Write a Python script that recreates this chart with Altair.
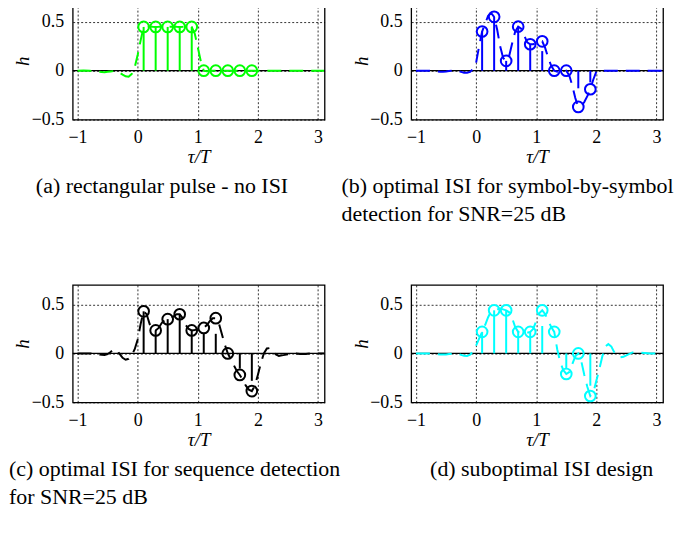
import altair as alt
import pandas as pd

# sample instants (tau/T)
sample_t = [0.1, 0.3, 0.5, 0.7, 0.9, 1.1, 1.3, 1.5, 1.7, 1.9]

# sampled pulse values (circles)
samp_a = [0.447, 0.447, 0.447, 0.447, 0.447, 0.0, 0.0, 0.0, 0.0, 0.0]
samp_b = [0.40, 0.55, 0.10, 0.45, 0.27, 0.30, 0.0, 0.0, -0.37, -0.19]
samp_c = [0.43, 0.235, 0.35, 0.40, 0.235, 0.26, 0.36, 0.0, -0.22, -0.385]
samp_d = [0.22, 0.44, 0.44, 0.22, 0.22, 0.44, 0.22, -0.21, 0.0, -0.435]

# visible stem ends
stem_a = [0.447, 0.447, 0.447, 0.447, 0.447, 0.0, 0.0, 0.0, 0.0, 0.0]
stem_b = [0.40, 0.55, 0.10, 0.45, 0.27, 0.20, 0.0, 0.0, -0.18, -0.12]
stem_c = [0.43, 0.235, 0.35, 0.40, 0.235, 0.20, 0.20, 0.0, -0.155, -0.28]
stem_d = [0.22, 0.44, 0.44, 0.22, 0.22, 0.28, 0.0, -0.16, 0.0, -0.33]

# continuous pulse (dashed curve)
curve_t = [-1.0, -0.9, -0.8, -0.7, -0.6, -0.55, -0.5, -0.45, -0.4, -0.35,
           -0.3, -0.25, -0.2, -0.15, -0.1, -0.05, 0.0, 0.05, 0.1, 0.15,
           0.2, 0.25, 0.3, 0.35, 0.4, 0.45, 0.5, 0.55, 0.6, 0.65,
           0.7, 0.75, 0.8, 0.85, 0.9, 0.95, 1.0, 1.05, 1.1, 1.15,
           1.2, 1.25, 1.3, 1.35, 1.4, 1.45, 1.5, 1.55, 1.6, 1.65,
           1.7, 1.75, 1.8, 1.85, 1.9, 1.95, 2.0, 2.05, 2.1, 2.15,
           2.2, 2.25, 2.3, 2.35, 2.4, 2.45, 2.5, 2.6, 2.7, 2.8,
           2.9, 3.0, 3.1]

curve_a = [0, 0.003, 0.0, -0.008, -0.014, -0.015, -0.012, -0.008, -0.004, -0.008,
           -0.02, -0.04, -0.058, -0.062, -0.035, 0.03, 0.16, 0.31, 0.447, 0.45,
           0.45, 0.448, 0.447, 0.448, 0.45, 0.448, 0.447, 0.448, 0.45, 0.448,
           0.447, 0.448, 0.45, 0.448, 0.447, 0.38, 0.24, 0.10, 0.0, -0.005,
           0, 0, 0, 0, 0, 0, 0, 0, 0, 0,
           0, 0, 0, 0, 0, 0, 0, 0, 0, 0,
           0, 0, 0, 0, 0, 0, 0, 0, 0, 0,
           0, 0, 0]

curve_b = [0, 0, 0, -0.005, -0.01, -0.01, -0.008, -0.004, 0.0, 0.0,
           -0.005, -0.012, -0.02, -0.022, -0.012, 0.02, 0.08, 0.25, 0.40, 0.48,
           0.56, 0.59, 0.55, 0.42, 0.25, 0.13, 0.10, 0.15, 0.28, 0.40,
           0.45, 0.43, 0.36, 0.29, 0.27, 0.27, 0.28, 0.29, 0.30, 0.23,
           0.13, 0.05, 0.0, -0.01, 0.0, 0.01, 0.0, -0.05, -0.15, -0.28,
           -0.37, -0.36, -0.32, -0.26, -0.19, -0.09, -0.01, 0.0, 0.0, 0.0,
           0, 0, 0, 0, 0, 0, 0, 0, 0, 0,
           0, 0, 0]

curve_c = [0, 0, 0, -0.005, -0.014, -0.016, -0.008, 0.015, 0.04, 0.035,
           -0.005, -0.045, -0.065, -0.055, -0.02, 0.04, 0.14, 0.30, 0.43, 0.40,
           0.30, 0.24, 0.235, 0.26, 0.31, 0.34, 0.35, 0.36, 0.38, 0.40,
           0.40, 0.36, 0.29, 0.25, 0.235, 0.24, 0.25, 0.255, 0.26, 0.29,
           0.33, 0.36, 0.36, 0.31, 0.20, 0.09, 0.0, -0.06, -0.12, -0.18,
           -0.22, -0.27, -0.33, -0.37, -0.385, -0.33, -0.22, -0.10, 0.0, 0.05,
           0.055, 0.03, -0.01, -0.025, -0.02, -0.015, -0.01, 0.0, -0.005, -0.005,
           0.0, 0.0, 0.0]

curve_d = [0, 0, 0, -0.003, -0.01, -0.01, -0.01, -0.006, -0.003, -0.003,
           -0.005, -0.015, -0.025, -0.027, -0.012, 0.02, 0.08, 0.15, 0.22, 0.29,
           0.37, 0.43, 0.44, 0.45, 0.455, 0.45, 0.44, 0.42, 0.36, 0.27,
           0.22, 0.21, 0.21, 0.21, 0.22, 0.25, 0.33, 0.41, 0.44, 0.40,
           0.33, 0.27, 0.22, 0.04, -0.09, -0.17, -0.21, -0.19, -0.11, -0.03,
           0.0, -0.08, -0.22, -0.34, -0.435, -0.40, -0.28, -0.16, -0.03, 0.07,
           0.095, 0.07, 0.01, -0.03, -0.04, -0.035, -0.02, 0.01, 0.01, 0.005,
           0.0, 0.0, 0.0]

captions = [
    "(a) rectangular pulse - no ISI",
    ["(b) optimal ISI for symbol-by-symbol", "detection for SNR=25 dB"],
    ["(c) optimal ISI for sequence detection", "for SNR=25 dB"],
    "(d) suboptimal ISI design",
]
colors = ["#00ff00", "#0000ff", "#000000", "#00ffff"]
caption_dx = [-37, -70, -64, 19]

FONT = "Liberation Serif"
W, H = 253, 118


def panel(curve_h, samp_h, stem_h, color, caption, dx):
    dc = pd.DataFrame({"t": curve_t, "h": curve_h})
    ds = pd.DataFrame({"t": sample_t, "h": samp_h, "stem": stem_h})
    db = pd.DataFrame({"h": [0.0]})
    xs = alt.Scale(domain=[-1.08, 3.11], nice=False, zero=False)
    ys = alt.Scale(domain=[-0.5, 0.7], nice=False, zero=False)
    xa = alt.Axis(values=[-1, 0, 1, 2, 3], title="τ/T", format="~g")
    ya = alt.Axis(values=[-0.5, 0, 0.5], title="h", format="~g")
    X = alt.X("t:Q", scale=xs, axis=xa)

    base = alt.Chart(db).mark_rule(color="black", strokeWidth=1.3).encode(
        y=alt.Y("h:Q", scale=ys, axis=ya)
    )
    curve = alt.Chart(dc).mark_line(
        color=color, strokeWidth=2, strokeDash=[14, 8], clip=True
    ).encode(x=X, y=alt.Y("h:Q", scale=ys, axis=ya), order="t:Q")
    stems = alt.Chart(ds).mark_rule(color=color, strokeWidth=2).encode(
        x=X, y=alt.Y("stem:Q", scale=ys, axis=ya), y2=alt.datum(0)
    )
    circ = alt.Chart(ds).mark_point(
        shape="circle", filled=False, size=115, strokeWidth=2, color=color, opacity=1
    ).encode(x=X, y=alt.Y("h:Q", scale=ys, axis=ya))

    return alt.layer(base, curve, stems, circ).properties(
        width=W,
        height=H,
        title=alt.TitleParams(
            text=caption,
            orient="bottom",
            anchor="start",
            frame="group",
            dx=dx,
            offset=10,
            font=FONT,
            fontSize=22,
            fontWeight="normal",
            color="black",
            lineHeight=28,
        ),
    )


panels = [
    panel(curve_a, samp_a, stem_a, colors[0], captions[0], caption_dx[0]),
    panel(curve_b, samp_b, stem_b, colors[1], captions[1], caption_dx[1]),
    panel(curve_c, samp_c, stem_c, colors[2], captions[2], caption_dx[2]),
    panel(curve_d, samp_d, stem_d, colors[3], captions[3], caption_dx[3]),
]

chart = alt.ConcatChart(
    concat=panels,
    columns=2,
    spacing={"row": 166, "column": 87},
    bounds="flush",
    padding={"left": 0, "top": -8, "right": 0, "bottom": 0},
).configure_view(
    stroke="black", strokeWidth=1.3
).configure_axis(
    domain=False,
    ticks=False,
    grid=True,
    gridColor="black",
    gridDash=[2, 2],
    gridWidth=0.8,
    labelFont=FONT,
    labelFontSize=18,
    labelColor="black",
    titleFont=FONT,
    titleFontSize=19,
    titleFontStyle="italic",
    titleFontWeight="normal",
    titleColor="black",
    titleBaseline="middle",
).configure_axisX(
    labelPadding=9, titleY=37
).configure_axisY(
    labelPadding=9, titleX=-50
)

chart.save("out.html", embed_options={"renderer": "svg", "actions": False})
